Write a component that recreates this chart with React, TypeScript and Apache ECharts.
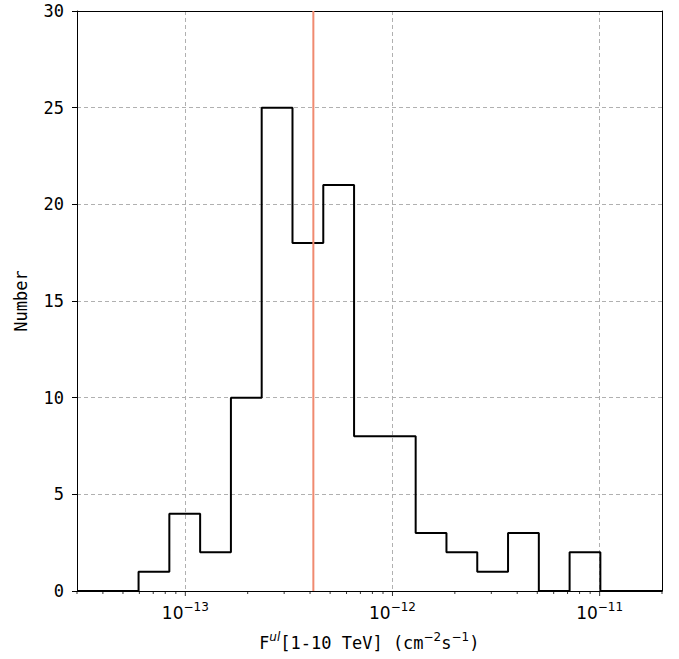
import React, { useEffect, useRef } from "react";
import * as echarts from "echarts";

// Histogram bin edges (flux, cm^-2 s^-1), log-spaced
const binEdges = [
  3.0e-14, 4.224e-14, 5.947e-14, 8.373e-14, 1.179e-13, 1.66e-13, 2.337e-13,
  3.291e-13, 4.634e-13, 6.525e-13, 9.19e-13, 1.294e-12, 1.822e-12, 2.566e-12,
  3.613e-12, 5.087e-12, 7.162e-12, 1.008e-11, 1.42e-11, 2.0e-11,
];
// Counts per bin
const binCounts = [0, 0, 1, 4, 2, 10, 25, 18, 21, 8, 8, 3, 2, 1, 3, 0, 2, 0, 0];

// Vertical reference line
const refFlux = 4.15e-13;

// Axis ticks
const xMajorTicks = [1e-13, 1e-12, 1e-11];
const xMinorTicks = [
  3e-14, 4e-14, 5e-14, 6e-14, 7e-14, 8e-14, 9e-14,
  2e-13, 3e-13, 4e-13, 5e-13, 6e-13, 7e-13, 8e-13, 9e-13,
  2e-12, 3e-12, 4e-12, 5e-12, 6e-12, 7e-12, 8e-12, 9e-12,
  2e-11,
];
const yMin = 0;
const yMax = 30;
const yInterval = 5;

const MONO = "DejaVu Sans Mono";
const SANS = "DejaVu Sans";

export default function App() {
  const ref = useRef<HTMLDivElement>(null);

  useEffect(() => {
    if (!ref.current) return;
    const chart = echarts.init(ref.current, undefined, { renderer: "svg" });

    const stepData: number[][] = [];
    for (let i = 0; i < binCounts.length; i++) {
      stepData.push([binEdges[i], binCounts[i]]);
      stepData.push([binEdges[i + 1], binCounts[i]]);
    }

    const frameAxis = {
      axisLine: { show: true, onZero: false, lineStyle: { color: "#000", width: 1 } },
      axisTick: { show: false },
      axisLabel: { show: false },
      splitLine: { show: false },
    };

    const tickSeries = (vals: number[], len: number) => ({
      type: "scatter",
      data: vals.map((v) => [v, yMin]),
      symbol: "rect",
      symbolSize: [1, len],
      symbolOffset: [0, len / 2],
      itemStyle: { color: "#000" },
      clip: false,
      silent: true,
      z: 5,
    });

    const option: any = {
      animation: false,
      backgroundColor: "#ffffff",
      grid: {
        left: 77,
        right: 17,
        top: 11,
        bottom: 68,
      },
      xAxis: [
        {
          type: "log",
          logBase: 10,
          min: binEdges[0],
          max: binEdges[binEdges.length - 1],
          axisLine: { show: true, onZero: false, lineStyle: { color: "#000", width: 1 } },
          axisTick: { show: false },
          splitLine: {
            show: true,
            lineStyle: { color: "#b0b0b0", type: [4, 3], width: 1 },
          },
          axisLabel: {
            margin: 10,
            showMinLabel: false,
            showMaxLabel: false,
            formatter: (v: number) => {
              const l = Math.log10(v);
              const e = Math.round(l);
              if (Math.abs(l - e) > 1e-6) return "";
              return `{b|10}{s|\u2212${-e}}`;
            },
            rich: {
              b: {
                fontFamily: SANS,
                fontSize: 17,
                color: "#000",
                lineHeight: 20,
                verticalAlign: "bottom",
              },
              s: {
                fontFamily: SANS,
                fontSize: 12,
                color: "#000",
                lineHeight: 12,
                verticalAlign: "top",
              },
            },
          },
          name: "{f|F}{u|ul}{m|[1-10 TeV] (cm}{s|\u22122}{m|s}{s|\u22121}{m|)}",
          nameLocation: "middle",
          nameGap: 40,
          nameTextStyle: {
            rich: {
              f: { fontFamily: SANS, fontSize: 17, color: "#000", lineHeight: 20, verticalAlign: "bottom" },
              m: { fontFamily: MONO, fontSize: 17, color: "#000", lineHeight: 20, verticalAlign: "bottom" },
              u: { fontFamily: SANS, fontStyle: "italic", fontSize: 12, color: "#000", lineHeight: 12, verticalAlign: "top" },
              s: { fontFamily: SANS, fontSize: 12, color: "#000", lineHeight: 12, verticalAlign: "top" },
            },
          },
        },
        {
          type: "log",
          logBase: 10,
          position: "top",
          min: binEdges[0],
          max: binEdges[binEdges.length - 1],
          ...frameAxis,
        },
      ],
      yAxis: [
        {
          type: "value",
          min: yMin,
          max: yMax,
          interval: yInterval,
          axisLine: { show: true, onZero: false, lineStyle: { color: "#000", width: 1 } },
          axisTick: { show: true, inside: false, length: 5, lineStyle: { color: "#000", width: 1 } },
          splitLine: {
            show: true,
            lineStyle: { color: "#b0b0b0", type: [4, 3], width: 1 },
          },
          axisLabel: {
            margin: 13,
            fontFamily: MONO,
            fontSize: 17,
            color: "#000",
          },
          name: "Number",
          nameLocation: "middle",
          nameGap: 48,
          nameRotate: 90,
          nameTextStyle: { fontFamily: MONO, fontSize: 17, color: "#000" },
        },
        {
          type: "value",
          position: "right",
          min: yMin,
          max: yMax,
          ...frameAxis,
        },
      ],
      series: [
        {
          type: "line",
          data: stepData,
          showSymbol: false,
          symbol: "none",
          lineStyle: { color: "#000", width: 2 },
          clip: false,
          silent: true,
          z: 3,
        },
        {
          type: "line",
          data: [
            [refFlux, yMin],
            [refFlux, yMax],
          ],
          showSymbol: false,
          symbol: "none",
          silent: true,
          lineStyle: { color: "#f08a70", width: 2 },
          z: 4,
        },
        tickSeries(xMajorTicks, 5),
        tickSeries(xMinorTicks, 3),
      ],
    };

    chart.setOption(option);
    return () => chart.dispose();
  }, []);

  return (
    <div
      ref={ref}
      style={{ position: "fixed", left: 0, top: 0, width: 679, height: 659 }}
    />
  );
}
